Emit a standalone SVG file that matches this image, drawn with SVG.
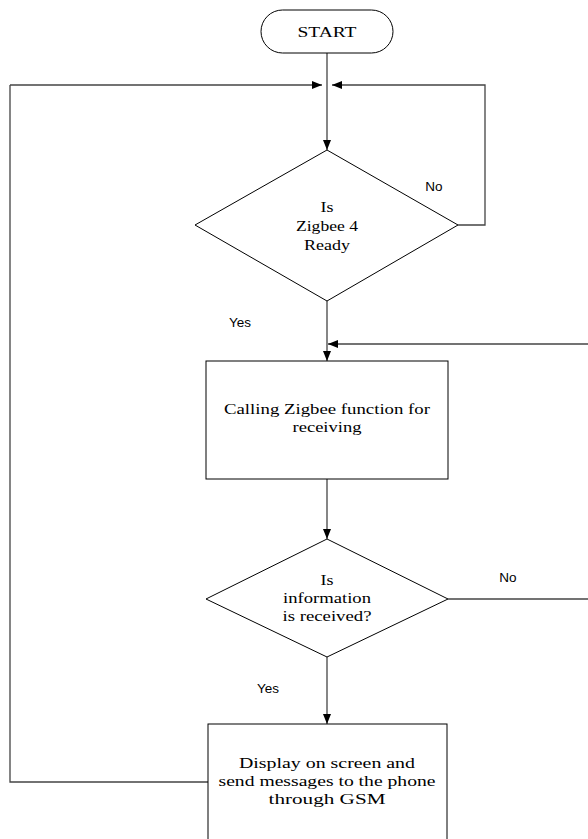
<svg xmlns="http://www.w3.org/2000/svg" width="588" height="839" viewBox="0 0 588 839">
<style>
.shape{fill:#fff;stroke:#000;stroke-width:1}
.conn{fill:none;stroke:#444;stroke-width:1.3}
.t{font-family:"Liberation Serif",serif;font-size:15px;fill:#000;text-anchor:middle}
.lbl{font-family:"Liberation Sans",sans-serif;font-size:13.5px;fill:#000;text-anchor:middle}
</style>
<defs>
<marker id="ah" markerWidth="10" markerHeight="8" refX="10" refY="4" orient="auto" markerUnits="userSpaceOnUse">
<path d="M0,0 L10,4 L0,8 Z" fill="#000"/>
</marker>
</defs>
<rect width="588" height="839" fill="#fff"/>
<g id="connectors">
<line class="conn" x1="327" y1="52" x2="327" y2="150" marker-end="url(#ah)"/>
<polyline class="conn" points="10,85 10,782 208,782"/>
<line class="conn" x1="10" y1="85" x2="322" y2="85" marker-end="url(#ah)"/>
<polyline class="conn" points="458,225 485,225 485,85 332,85" marker-end="url(#ah)"/>
<line class="conn" x1="327" y1="301" x2="327" y2="361" marker-end="url(#ah)"/>
<line class="conn" x1="588" y1="344" x2="328" y2="344" marker-end="url(#ah)"/>
<line class="conn" x1="327" y1="479" x2="327" y2="539" marker-end="url(#ah)"/>
<line class="conn" x1="448" y1="599" x2="588" y2="599"/>
<line class="conn" x1="327" y1="657" x2="327" y2="724" marker-end="url(#ah)"/>
<text class="lbl" x="434" y="191">No</text>
<text class="lbl" x="240" y="327">Yes</text>
<text class="lbl" x="508" y="582">No</text>
<text class="lbl" x="268" y="693">Yes</text>
</g>
<g id="start">
<rect class="shape" x="261" y="10" width="132" height="43" rx="21.5"/>
<text class="t" x="327" y="37" textLength="59" lengthAdjust="spacingAndGlyphs">START</text>
</g>
<g id="zigbee-ready">
<polygon class="shape" points="327,150 458,225 327,301 195,225"/>
<text class="t" x="327" y="212" textLength="13" lengthAdjust="spacingAndGlyphs">Is</text>
<text class="t" x="327" y="231" textLength="62" lengthAdjust="spacingAndGlyphs">Zigbee 4</text>
<text class="t" x="327" y="250" textLength="46" lengthAdjust="spacingAndGlyphs">Ready</text>
</g>
<g id="calling">
<rect class="shape" x="206" y="361" width="242" height="118"/>
<text class="t" x="327" y="414" textLength="206" lengthAdjust="spacingAndGlyphs">Calling Zigbee function for</text>
<text class="t" x="327" y="432" textLength="69" lengthAdjust="spacingAndGlyphs">receiving</text>
</g>
<g id="info-received">
<polygon class="shape" points="327,539 448,599 327,657 206,599"/>
<text class="t" x="327" y="585" textLength="13" lengthAdjust="spacingAndGlyphs">Is</text>
<text class="t" x="327" y="603" textLength="88" lengthAdjust="spacingAndGlyphs">information</text>
<text class="t" x="327" y="621" textLength="89" lengthAdjust="spacingAndGlyphs">is received?</text>
</g>
<g id="display">
<rect class="shape" x="208" y="724" width="239" height="130"/>
<text class="t" x="327" y="768" textLength="176" lengthAdjust="spacingAndGlyphs">Display on screen and</text>
<text class="t" x="327" y="786" textLength="217" lengthAdjust="spacingAndGlyphs">send messages to the phone</text>
<text class="t" x="327" y="804" textLength="117" lengthAdjust="spacingAndGlyphs">through GSM</text>
</g>
</svg>
